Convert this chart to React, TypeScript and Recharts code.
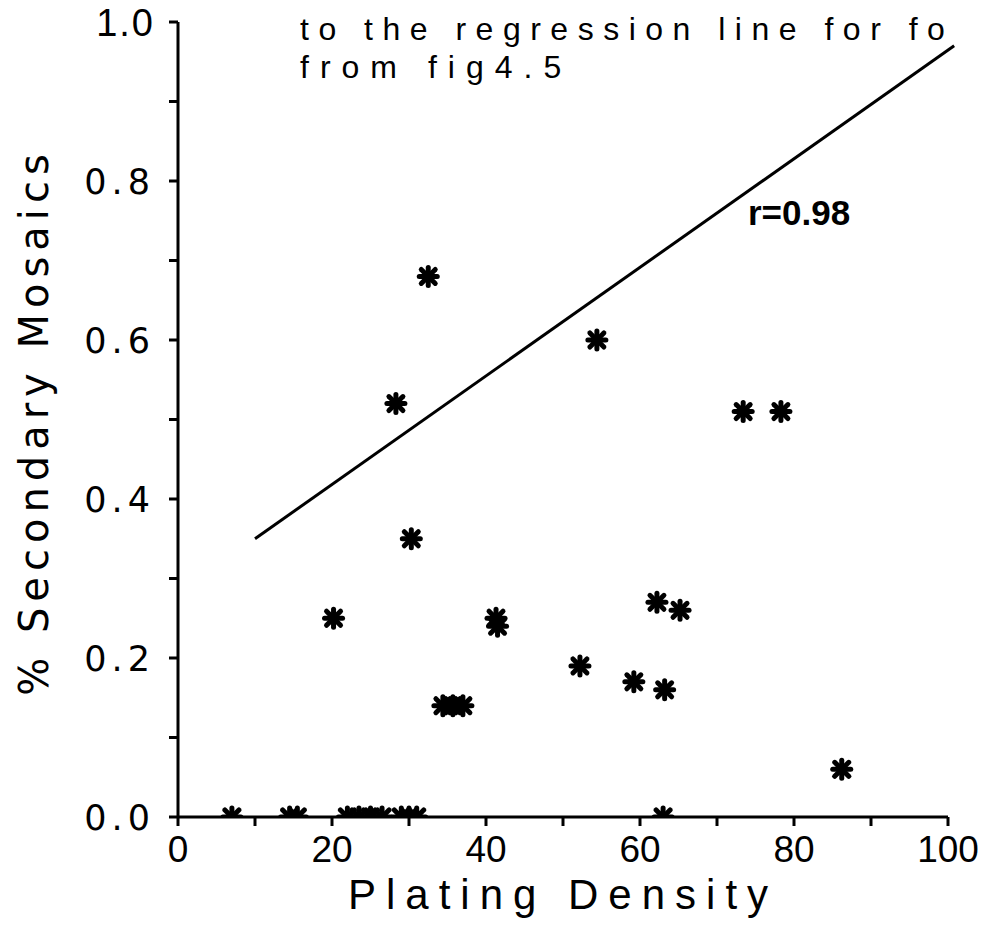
import React from 'react';
import { ScatterChart, Scatter, XAxis, YAxis, ReferenceLine } from 'recharts';

// plating density vs % secondary mosaics
const densityValues = [
  7, 14.5, 15.5, 22, 23.5, 25, 26.5, 29, 30, 31, 63,
  20.2, 28.3, 30.3, 32.5, 34.4, 35.7, 37, 41.3, 41.5, 52.2, 54.4,
  59.2, 62.2, 63.2, 65.2, 73.4, 78.3, 86.2,
];
const mosaicValues = [
  0, 0, 0, 0, 0, 0, 0, 0, 0, 0, 0,
  0.25, 0.52, 0.35, 0.68, 0.14, 0.14, 0.14, 0.25, 0.24, 0.19, 0.6,
  0.17, 0.27, 0.16, 0.26, 0.51, 0.51, 0.06,
];
const regressionStart = { x: 10, y: 0.35 };
const regressionEnd = { x: 100.8, y: 0.97 };
const xTicks = [0, 10, 20, 30, 40, 50, 60, 70, 80, 90, 100];
const yTicks = [0, 0.1, 0.2, 0.3, 0.4, 0.5, 0.6, 0.7, 0.8, 0.9, 1.0];

const points = densityValues.map((x, i) => ({ x, y: mosaicValues[i] }));

const THIN = "'Liberation Sans', Arial, sans-serif";
const ROUND = "'DejaVu Sans', sans-serif";

const Star = (props: any) => {
  const { cx, cy } = props;
  const d = 7;
  return (
    <g stroke="#000" strokeWidth={5} strokeLinecap="round" fill="#000">
      <line x1={cx - 9} y1={cy} x2={cx + 9} y2={cy} />
      <line x1={cx} y1={cy - 9} x2={cx} y2={cy + 9} />
      <line x1={cx - d} y1={cy - d} x2={cx + d} y2={cy + d} />
      <line x1={cx - d} y1={cy + d} x2={cx + d} y2={cy - d} />
      <circle cx={cx} cy={cy} r={4.5} stroke="none" />
    </g>
  );
};

const YTick = (props: any) => {
  const { x, y, payload } = props;
  const v = Number(payload.value);
  if (Math.round(v * 10) % 2 !== 0) return null;
  const top = v === 1;
  return (
    <text
      x={x}
      y={y}
      dy="0.36em"
      textAnchor="end"
      fontFamily={top ? THIN : ROUND}
      fontSize={top ? 38 : 35}
      letterSpacing={top ? 2 : 5}
      fill="#000"
    >
      {v.toFixed(1)}
    </text>
  );
};

export default function App() {
  return (
    <div style={{ position: 'absolute', left: 0, top: 0, width: 988, height: 934, background: '#fff', overflow: 'hidden' }}>
      <ScatterChart width={988} height={934} margin={{ top: 22, right: 40, left: 78, bottom: 17 }}>
        <XAxis
          type="number"
          dataKey="x"
          domain={[0, 100]}
          ticks={xTicks}
          allowDataOverflow
          tickFormatter={(v: number) => (v % 20 === 0 ? String(v) : '')}
          tick={{ fontFamily: THIN, fontSize: 37, fill: '#000' }}
          tickSize={9}
          tickMargin={10}
          height={100}
          axisLine={{ stroke: '#000', strokeWidth: 3 }}
          tickLine={{ stroke: '#000', strokeWidth: 3 }}
          label={{
            value: 'Plating Density',
            position: 'insideBottom',
            offset: 8,
            style: { fontFamily: THIN, fontSize: 42, fill: '#000', letterSpacing: 10 },
          }}
        />
        <YAxis
          type="number"
          dataKey="y"
          domain={[0, 1]}
          ticks={yTicks}
          allowDataOverflow
          width={100}
          tick={<YTick />}
          tickSize={9}
          tickMargin={14}
          axisLine={{ stroke: '#000', strokeWidth: 3 }}
          tickLine={{ stroke: '#000', strokeWidth: 3 }}
        />
        <ReferenceLine
          segment={[regressionStart, regressionEnd]}
          stroke="#000"
          strokeWidth={3}
          ifOverflow="visible"
        />
        <Scatter data={points} shape={<Star />} isAnimationActive={false} />
      </ScatterChart>
      <svg
        width={988}
        height={934}
        style={{ position: 'absolute', left: 0, top: 0, pointerEvents: 'none' }}
      >
        <text x={300} y={40} fontFamily={THIN} fontSize={32} letterSpacing={9.5} fill="#000">
          to the regression line for fo
        </text>
        <text x={300} y={78} fontFamily={THIN} fontSize={32} letterSpacing={11} fill="#000">
          from fig4.5
        </text>
        <text x={748} y={225} fontFamily={THIN} fontWeight="bold" fontSize={35} fill="#000">
          r=0.98
        </text>
        <text
          transform="translate(48,422) rotate(-90)"
          textAnchor="middle"
          fontFamily={ROUND}
          fontSize={40}
          letterSpacing={6}
          fill="#000"
        >
          % Secondary Mosaics
        </text>
      </svg>
    </div>
  );
}
